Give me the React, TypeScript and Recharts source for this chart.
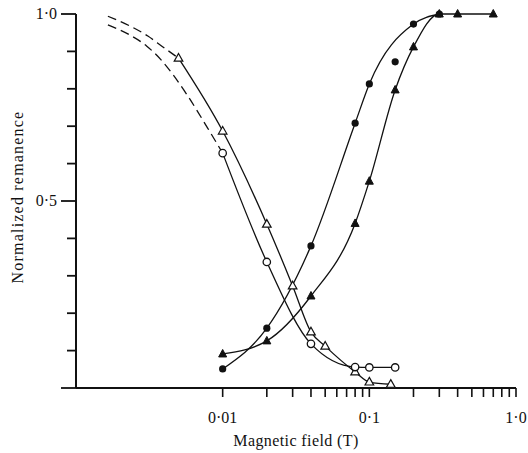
import { ComposedChart, Line, Scatter, XAxis, YAxis, Label } from 'recharts';

// open triangles
const openTriField = [0.005, 0.01, 0.02, 0.03, 0.04, 0.05, 0.08, 0.1, 0.14];
const openTriValue = [0.882, 0.687, 0.438, 0.273, 0.15, 0.112, 0.043, 0.016, 0.01];
const openTriDashField = [0.00165, 0.00233, 0.00309, 0.00385, 0.005];
const openTriDashValue = [0.994, 0.968, 0.941, 0.914, 0.882];

// open circles
const openCircField = [0.01, 0.02, 0.04, 0.08, 0.1, 0.15];
const openCircValue = [0.628, 0.337, 0.118, 0.056, 0.055, 0.055];
const openCircDashField = [0.00165, 0.0023, 0.00304, 0.00379, 0.00464, 0.00578, 0.0079, 0.01];
const openCircDashValue = [0.971, 0.945, 0.914, 0.878, 0.835, 0.781, 0.695, 0.628];

// filled circles
const fillCircField = [0.01, 0.02, 0.04, 0.08, 0.1, 0.2, 0.3];
const fillCircValue = [0.051, 0.16, 0.38, 0.708, 0.813, 0.973, 1.0];
const fillCircExtraField = [0.15];
const fillCircExtraValue = [0.872];

// filled triangles
const fillTriField = [0.01, 0.02, 0.04, 0.08, 0.1, 0.15, 0.2, 0.3, 0.4, 0.7];
const fillTriValue = [0.091, 0.126, 0.246, 0.44, 0.553, 0.797, 0.912, 1.0, 1.0, 1.0];

const xTicks = [0.01, 0.02, 0.03, 0.04, 0.05, 0.06, 0.07, 0.08, 0.09, 0.1, 0.2, 0.3, 0.4, 0.5, 0.6, 0.7, 0.8, 0.9, 1.0];
const xLabels: Record<string, string> = { '0.01': '0·01', '0.1': '0·1', '1': '1·0' };
const yTicks = [0, 0.1, 0.2, 0.3, 0.4, 0.5, 0.6, 0.7, 0.8, 0.9, 1.0];
const yLabels: Record<string, string> = { '0.5': '0·5', '1': '1·0' };

const zip = (xs: number[], ys: number[]) => xs.map((x, i) => ({ x, y: ys[i] }));

const INK = '#111';
const FONT = '"Liberation Serif", "DejaVu Serif", serif';

const OpenTri = ({ cx, cy }: any) =>
  cx == null ? null : (
    <polygon points={`${cx},${cy - 4.6} ${cx + 4.3},${cy + 3} ${cx - 4.3},${cy + 3}`} fill="#fff" stroke={INK} strokeWidth={1.2} />
  );
const FillTri = ({ cx, cy }: any) =>
  cx == null ? null : (
    <polygon points={`${cx},${cy - 4.5} ${cx + 4},${cy + 3} ${cx - 4},${cy + 3}`} fill={INK} stroke={INK} strokeWidth={1} />
  );
const OpenCirc = ({ cx, cy }: any) =>
  cx == null ? null : <circle cx={cx} cy={cy} r={3.7} fill="#fff" stroke={INK} strokeWidth={1.3} />;
const FillCirc = ({ cx, cy }: any) =>
  cx == null ? null : <circle cx={cx} cy={cy} r={3.6} fill={INK} />;

const XTick = ({ x, y, payload }: any) => {
  const label = xLabels[String(payload.value)];
  return (
    <g>
      <line x1={x} y1={y} x2={x} y2={y + 9} stroke={INK} strokeWidth={1.6} />
      {label && (
        <text x={x} y={y + 35} textAnchor="middle" fontFamily={FONT} fontSize={16} fill={INK}>
          {label}
        </text>
      )}
    </g>
  );
};

const YTick = ({ x, y, payload }: any) => {
  const label = yLabels[String(payload.value)];
  const major = payload.value === 0 || payload.value === 0.5 || payload.value === 1;
  const len = major ? 15 : 9;
  return (
    <g>
      <line x1={x - len} y1={y} x2={x} y2={y} stroke={INK} strokeWidth={1.8} />
      {label && (
        <text x={x - len - 4} y={y + 5} textAnchor="end" fontFamily={FONT} fontSize={16} fill={INK}>
          {label}
        </text>
      )}
    </g>
  );
};

const curve = { stroke: INK, strokeWidth: 1.3, type: 'monotone' as const, isAnimationActive: false, dataKey: 'y' };

export default function App() {
  return (
    <div style={{ position: 'absolute', left: 0, top: 0, background: '#fff' }}>
      <ComposedChart width={528} height={453} margin={{ top: 14, right: 12, bottom: 0, left: 0 }}>
        <XAxis
          type="number"
          dataKey="x"
          scale="log"
          domain={[0.001, 1]}
          ticks={xTicks}
          interval={0}
          tickSize={0}
          tickMargin={0}
          tickLine={false}
          tick={<XTick />}
          height={65}
          stroke={INK}
          strokeWidth={2}
          allowDataOverflow
        >
          <Label value="Magnetic field (T)" position="insideBottom" offset={7} fontFamily={FONT} fontSize={16} letterSpacing={0.4} fill={INK} />
        </XAxis>
        <YAxis
          type="number"
          dataKey="y"
          domain={[0, 1]}
          ticks={yTicks}
          interval={0}
          tickSize={0}
          tickMargin={0}
          tickLine={false}
          tick={<YTick />}
          width={76}
          stroke={INK}
          strokeWidth={2}
          label={{
            content: ({ viewBox }: any) => {
              const cx = viewBox.x + 17;
              const cy = viewBox.y + viewBox.height / 2 - 4;
              return (
                <text x={cx} y={cy} transform={`rotate(-90 ${cx} ${cy})`} textAnchor="middle" dominantBaseline="central" fontFamily={FONT} fontSize={16} letterSpacing={1.2} fill={INK}>
                  Normalized remanence
                </text>
              );
            },
          }}
        />
        <Line {...curve} data={zip(openTriDashField, openTriDashValue)} strokeDasharray="9 5" dot={false} />
        <Line {...curve} data={zip(openCircDashField, openCircDashValue)} strokeDasharray="9 5" dot={false} />
        <Line {...curve} data={zip(openTriField, openTriValue)} dot={<OpenTri />} />
        <Line {...curve} data={zip(openCircField, openCircValue)} dot={<OpenCirc />} />
        <Line {...curve} data={zip(fillTriField, fillTriValue)} dot={<FillTri />} />
        <Line {...curve} data={zip(fillCircField, fillCircValue)} dot={<FillCirc />} />
        <Scatter data={zip(fillCircExtraField, fillCircExtraValue)} shape={<FillCirc />} isAnimationActive={false} />
      </ComposedChart>
    </div>
  );
}
